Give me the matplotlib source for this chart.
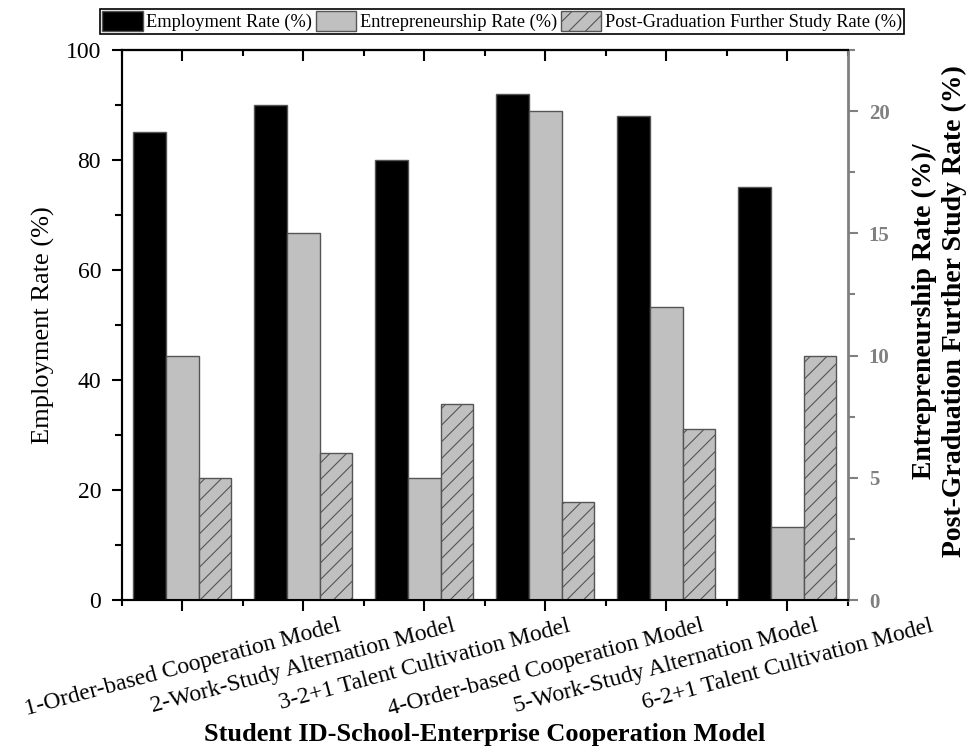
import numpy as np
import matplotlib
matplotlib.use('Agg')
import matplotlib.pyplot as plt
from matplotlib.patches import Patch
from matplotlib.ticker import MultipleLocator

plt.rcParams['font.family'] = ['Liberation Serif', 'DejaVu Serif']
plt.rcParams['hatch.linewidth'] = 0.8

models = ['1-Order-based Cooperation Model', '2-Work-Study Alternation Model',
          '3-2+1 Talent Cultivation Model', '4-Order-based Cooperation Model',
          '5-Work-Study Alternation Model', '6-2+1 Talent Cultivation Model']
employment = [85, 90, 80, 92, 88, 75]
entrepreneurship = [10, 15, 5, 20, 12, 3]
further_study = [5, 6, 8, 4, 7, 10]

GRAY = '#808080'
x = np.arange(1, len(models) + 1)
w = 0.27

fig = plt.figure(figsize=(9.71, 7.46), dpi=100)
ax = fig.add_axes([0.1256, 0.1957, 0.7477, 0.7373])
ax2 = ax.twinx()

ax.bar(x - w, employment, w, color='black', edgecolor='#555555', linewidth=1, zorder=2)
ax2.bar(x, entrepreneurship, w, color='#c0c0c0', edgecolor='#555555', linewidth=1)
ax2.bar(x + w, further_study, w, color='#c0c0c0', edgecolor='#555555', linewidth=1, hatch='//')

ax.set_xlim(0.5, 6.5)
ax.set_ylim(0, 100)
ax2.set_ylim(0, 22.5)

ax.set_xticks(x)
ax.set_xticklabels(models, rotation=15, ha='center', fontsize=17)
ax.xaxis.set_minor_locator(MultipleLocator(0.5))
ax.yaxis.set_major_locator(MultipleLocator(20))
ax.yaxis.set_minor_locator(MultipleLocator(10))
ax.tick_params(axis='y', which='major', direction='out', length=7, width=1.5,
               labelsize=17, pad=8)
ax.tick_params(axis='y', which='minor', direction='out', length=5, width=1.5)
ax.tick_params(axis='x', which='major', direction='out', length=8, width=1.5, pad=3)
ax.tick_params(axis='x', which='minor', direction='out', length=4, width=1.5)

# top axis: inward ticks, no labels
top = ax.secondary_xaxis('top')
top.set_xticks(x)
top.xaxis.set_minor_locator(MultipleLocator(0.5))
top.tick_params(axis='x', which='major', direction='in', length=8, width=1.5, labeltop=False)
top.tick_params(axis='x', which='minor', direction='in', length=4, width=1.5)
top.spines['top'].set_linewidth(1.5)

ax2.yaxis.set_major_locator(MultipleLocator(5))
ax2.yaxis.set_minor_locator(MultipleLocator(2.5))
ax2.tick_params(axis='y', which='major', direction='out', length=7, width=1.5,
                colors=GRAY, labelsize=15, pad=8)
ax2.tick_params(axis='y', which='minor', direction='out', length=5, width=1.5, colors=GRAY)
for lab in ax2.get_yticklabels():
    lab.set_fontweight('bold')

for s in ['left', 'bottom', 'top']:
    ax.spines[s].set_linewidth(1.5)
    ax2.spines[s].set_linewidth(1.5)
ax2.spines['right'].set_color(GRAY)
ax2.spines['right'].set_linewidth(2)
ax.spines['right'].set_visible(False)

ax.set_ylabel('Employment Rate (%)', fontsize=19, labelpad=8)
ax2.set_ylabel('Entrepreneurship Rate (%)/\nPost-Graduation Further Study Rate (%)',
               fontsize=20, fontweight='bold', labelpad=16, linespacing=1.25)
ax2.yaxis.label.set_y(0.525)
ax.set_xlabel('Student ID-School-Enterprise Cooperation Model', fontsize=19,
              fontweight='bold', labelpad=2)

handles = [Patch(facecolor='black', edgecolor='#555555'),
           Patch(facecolor='#c0c0c0', edgecolor='#555555'),
           Patch(facecolor='#c0c0c0', edgecolor='#555555', hatch='//')]
labels = ['Employment Rate (%)', 'Entrepreneurship Rate (%)',
          'Post-Graduation Further Study Rate (%)']
leg = fig.legend(handles, labels, loc='upper center', bbox_to_anchor=(0.517, 0.988),
                 ncol=3, fontsize=13.2, frameon=True, fancybox=False, edgecolor='black',
                 framealpha=1, handlelength=2.2, handleheight=1.3, handletextpad=0.2,
                 columnspacing=0.2, borderpad=0.12, borderaxespad=0)
leg.get_frame().set_linewidth(1.2)

fig.savefig('out.png', dpi=100)
